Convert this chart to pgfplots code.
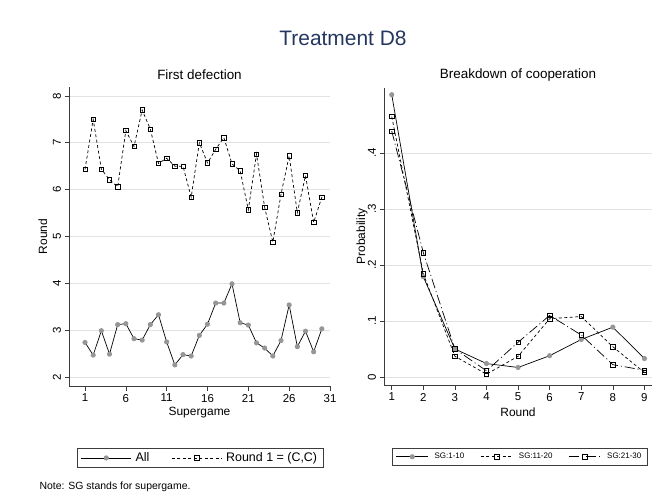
\documentclass[border=0pt]{standalone}
\usepackage{pgfplots}
\pgfplotsset{compat=1.18}
\usepackage{fontspec}
\setmainfont{Liberation Sans}
\definecolor{titlenavy}{RGB}{36,54,96}
\definecolor{mgray}{RGB}{150,150,150}
\definecolor{gridgray}{RGB}{226,226,226}
\definecolor{axgray}{RGB}{60,60,60}

\pgfplotstableread{
x all rcc
1 2.74 6.43
2 2.47 7.50
3 2.99 6.44
4 2.49 6.21
5 3.12 6.06
6 3.14 7.26
7 2.82 6.92
8 2.79 7.70
9 3.12 7.29
10 3.33 6.56
11 2.75 6.67
12 2.26 6.50
13 2.48 6.50
14 2.45 5.84
15 2.89 7.00
16 3.13 6.57
17 3.58 6.86
18 3.58 7.11
19 3.99 6.55
20 3.16 6.40
21 3.11 5.57
22 2.73 6.76
23 2.62 5.62
24 2.45 4.88
25 2.78 5.90
26 3.54 6.72
27 2.65 5.51
28 2.98 6.30
29 2.54 5.30
30 3.03 5.84
}\firstdef

\pgfplotstableread{
r sga sgb sgc
1 0.504 0.465 0.439
2 0.179 0.184 0.222
3 0.050 0.037 0.050
4 0.024 0.005 0.011
5 0.017 0.037 0.062
6 0.038 0.104 0.110
7 0.067 0.108 0.075
8 0.089 0.054 0.022
9 0.033 0.008 0.012
}\breakdown

\pgfplotsset{
  statastyle/.style={
    scale only axis,
    axis lines=left,
    axis line style={-, axgray, line width=0.7bp},
    tick style={axgray, line width=0.6bp},
    tick align=outside,
    major tick length=4.5bp,
    ymajorgrids,
    grid style={gridgray, line width=0.7bp},
    /pgf/number format/assume math mode=true,
    ticklabel style={font=\fontsize{11.5}{13}\selectfont},
    label style={font=\fontsize{12}{14}\selectfont},
    yticklabel style={rotate=90, anchor=south},
    clip=false,
  },
  allstyle/.style={black, line width=0.7bp, mark=*, mark size=2.2bp, mark options={draw=mgray, fill=mgray, solid}},
  dashstyle/.style={black, line width=0.7bp, dash pattern=on 3bp off 2.5bp, mark=square, mark size=2.2bp, mark options={solid, black, fill=white, line width=0.6bp}},
  ldashstyle/.style={black, line width=0.7bp, dash pattern=on 10bp off 3bp on 1bp off 3bp, mark=square, mark size=2.2bp, mark options={solid, black, fill=white, line width=0.6bp}},
}

\begin{document}
\begin{tikzpicture}
\path[use as bounding box] (0bp,0bp) rectangle (669bp,-495bp);
\node[font=\fontsize{21}{23}\selectfont, text=titlenavy] at (343bp,-38bp) {Treatment D8};
\node[font=\fontsize{13.5}{15}\selectfont] at (199.5bp,-75bp) {First defection};
\node[font=\fontsize{13.5}{15}\selectfont] at (518bp,-75bp) {Breakdown of cooperation};

\begin{axis}[statastyle,
  at={(69bp,-386bp)}, anchor=south west,
  width=261bp, height=299bp,
  xmin=-0.96, xmax=31, ymin=1.81, ymax=8.19,
  xtick={1,6,11,16,21,26,31}, ytick={2,3,4,5,6,7,8},
  xlabel={Supergame}, ylabel={Round},
  xlabel style={at={(axis description cs:0.5,-0.09)}, anchor=center},
  ylabel style={at={(axis description cs:-0.1,0.5)}, anchor=center},
  legend columns=2,
  legend style={at={(axis description cs:0.502,-0.207)}, anchor=north,
    draw=axgray, line width=0.6bp, inner xsep=4bp, inner ysep=2.5bp,
    font=\fontsize{12.5}{14}\selectfont,
    /tikz/every even column/.append style={column sep=20bp},
    /tikz/every odd column/.append style={column sep=2bp}},
  legend image code/.code={\draw[mark repeat=2, mark phase=2, #1] plot coordinates {(0bp,0bp) (25bp,0bp) (50bp,0bp)};},
]
\addplot[allstyle] table[x=x, y=all] {\firstdef};
\addlegendentry{All}
\addplot[dashstyle] table[x=x, y=rcc] {\firstdef};
\addlegendentry{Round 1 = (C,C)}
\end{axis}

\begin{axis}[statastyle,
  at={(384bp,-385bp)}, anchor=south west,
  width=268bp, height=297bp,
  xmin=0.755, xmax=9.24, ymin=-0.0143, ymax=0.516,
  xtick={1,2,3,4,5,6,7,8,9}, ytick={0,0.1,0.2,0.3,0.4},
  yticklabels={0,.1,.2,.3,.4},
  xlabel={Round}, ylabel={Probability},
  xlabel style={at={(axis description cs:0.5,-0.093)}, anchor=center},
  ylabel style={at={(axis description cs:-0.082,0.5)}, anchor=center},
  legend columns=3,
  legend style={at={(axis description cs:0.506,-0.212)}, anchor=north,
    draw=axgray, line width=0.6bp, inner xsep=4bp, inner ysep=3bp,
    font=\fontsize{8}{10}\selectfont,
    /tikz/every even column/.append style={column sep=14bp},
    /tikz/every odd column/.append style={column sep=4bp}},
  legend image code/.code={\draw[mark repeat=2, mark phase=2, #1] plot coordinates {(0bp,0bp) (16bp,0bp) (32bp,0bp)};},
]
\addplot[allstyle] table[x=r, y=sga] {\breakdown};
\addlegendentry{SG:1-10}
\addplot[dashstyle] table[x=r, y=sgb] {\breakdown};
\addlegendentry{SG:11-20}
\addplot[ldashstyle] table[x=r, y=sgc] {\breakdown};
\addlegendentry{SG:21-30}
\end{axis}

\node[anchor=west, font=\fontsize{10.5}{12}\selectfont] at (36bp,-487bp) {Note: SG stands for supergame.};
\end{tikzpicture}
\end{document}
